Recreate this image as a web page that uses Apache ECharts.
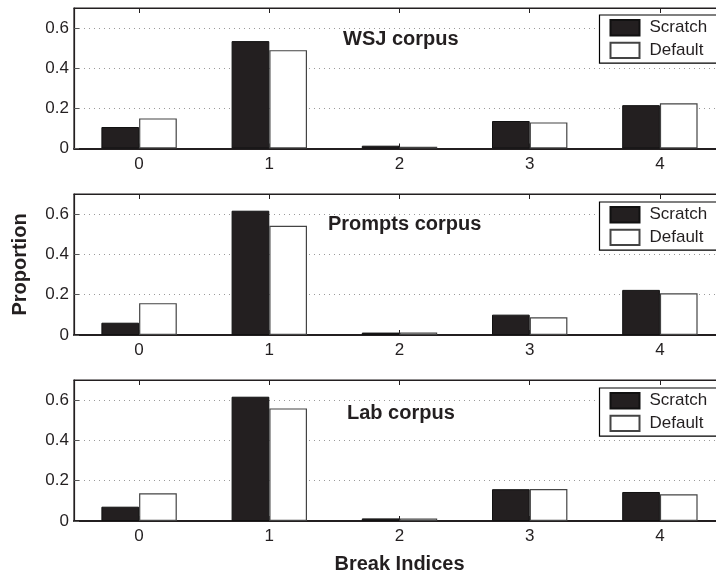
<!DOCTYPE html>
<html>
<head>
<meta charset="utf-8">
<script src="https://cdn.jsdelivr.net/npm/echarts@6/dist/echarts.min.js"></script>
<style>
  html, body { margin: 0; padding: 0; background: #fff; overflow: hidden; }
  /* the plot frame runs slightly past the right edge of the window */
  #chart { width: 740px; height: 578px; }
</style>
</head>
<body>
<div id="chart"></div>
<script>
// Break index categories
const categories = ['0', '1', '2', '3', '4'];

// Proportions per corpus, for the two model variants
const wsjScratch = [0.107, 0.535, 0.014, 0.137, 0.216];
const wsjDefault = [0.150, 0.490, 0.009, 0.130, 0.225];
const promptsScratch = [0.061, 0.617, 0.012, 0.101, 0.224];
const promptsDefault = [0.158, 0.542, 0.013, 0.088, 0.207];
const labScratch = [0.071, 0.617, 0.013, 0.158, 0.144];
const labDefault = [0.138, 0.559, 0.013, 0.159, 0.133];

const panelTitles = ['WSJ corpus', 'Prompts corpus', 'Lab corpus'];
const yTicks = { min: 0, max: 0.7, interval: 0.2 };

const panels = [
  { title: panelTitles[0], scratch: wsjScratch, def: wsjDefault },
  { title: panelTitles[1], scratch: promptsScratch, def: promptsDefault },
  { title: panelTitles[2], scratch: labScratch, def: labDefault }
];

const FONT = '"Liberation Sans", Arial, Helvetica, sans-serif';
const INK = '#231f20';
const gridTops = [8, 194, 380];
const gridHeights = [140.5, 141, 141];
const titleLefts = [343, 328, 347];
const titleTops = [29, 214, 403];
const legendTops = [15, 202, 388];

const grid = [], xAxis = [], yAxis = [], series = [], title = [], legend = [];

panels.forEach((p, i) => {
  grid.push({
    left: 74, width: 651, top: gridTops[i], height: gridHeights[i],
    show: true, borderColor: INK, borderWidth: 1.2, backgroundColor: '#fff'
  });
  // bottom axis with labels
  xAxis.push({
    type: 'category', gridIndex: i, data: categories, position: 'bottom',
    axisLine: { show: true, lineStyle: { color: INK, width: 2 } },
    axisTick: { show: true, inside: true, alignWithLabel: true, length: 5, lineStyle: { color: INK } },
    axisLabel: { color: INK, fontSize: 17, fontFamily: FONT, margin: 7 },
    name: i === 2 ? 'Break Indices' : '',
    nameLocation: 'middle', nameGap: 33,
    nameTextStyle: { color: INK, fontSize: 20, fontWeight: 'bold', fontFamily: FONT }
  });
  // top axis: ticks only
  xAxis.push({
    type: 'category', gridIndex: i, data: categories, position: 'top',
    axisLine: { show: true, lineStyle: { color: INK, width: 1.2 } },
    axisTick: { show: true, inside: true, alignWithLabel: true, length: 5, lineStyle: { color: INK } },
    axisLabel: { show: false }
  });
  yAxis.push({
    type: 'value', gridIndex: i, min: yTicks.min, max: yTicks.max, interval: yTicks.interval,
    axisLine: { show: true, lineStyle: { color: INK, width: 1.2 } },
    axisTick: { show: true, inside: true, length: 5, lineStyle: { color: '#555' } },
    axisLabel: { color: INK, fontSize: 17, fontFamily: FONT, margin: 5, showMaxLabel: false },
    splitLine: { show: true, lineStyle: { color: '#9a9a9a', type: [1, 4], width: 1 } },
    name: i === 1 ? 'Proportion' : '',
    nameLocation: 'middle', nameGap: 44,
    nameTextStyle: { color: INK, fontSize: 20, fontWeight: 'bold', fontFamily: FONT }
  });
  series.push({
    name: 'Scratch', type: 'bar', xAxisIndex: i * 2, yAxisIndex: i,
    data: p.scratch, barWidth: 37.7, barGap: '0%',
    itemStyle: { color: INK, borderColor: '#111', borderWidth: 1 }
  });
  series.push({
    name: 'Default', type: 'bar', xAxisIndex: i * 2, yAxisIndex: i,
    data: p.def, barWidth: 37.7, barGap: '0%',
    itemStyle: { color: '#fff', borderColor: '#444', borderWidth: 1.2 }
  });
  title.push({
    text: p.title, left: titleLefts[i], top: titleTops[i], padding: 0,
    textStyle: { color: INK, fontSize: 20, fontWeight: 'bold', fontFamily: FONT }
  });
  legend.push({
    data: ['Scratch', 'Default'], orient: 'vertical',
    left: 599.5, top: legendTops[i],
    padding: [4, 30, 4, 10], itemGap: 5.3,
    itemWidth: 29, itemHeight: 15.4, icon: 'rect',
    backgroundColor: '#fff', borderColor: '#000', borderWidth: 1.2,
    selectedMode: false,
    textStyle: { color: INK, fontSize: 17, fontFamily: FONT, padding: [0, 0, 0, 5] }
  });
});

const chart = echarts.init(document.getElementById('chart'), null, { renderer: 'canvas' });
chart.setOption({
  animation: false,
  backgroundColor: '#fff',
  title, legend, grid, xAxis, yAxis, series
});
</script>
</body>
</html>
